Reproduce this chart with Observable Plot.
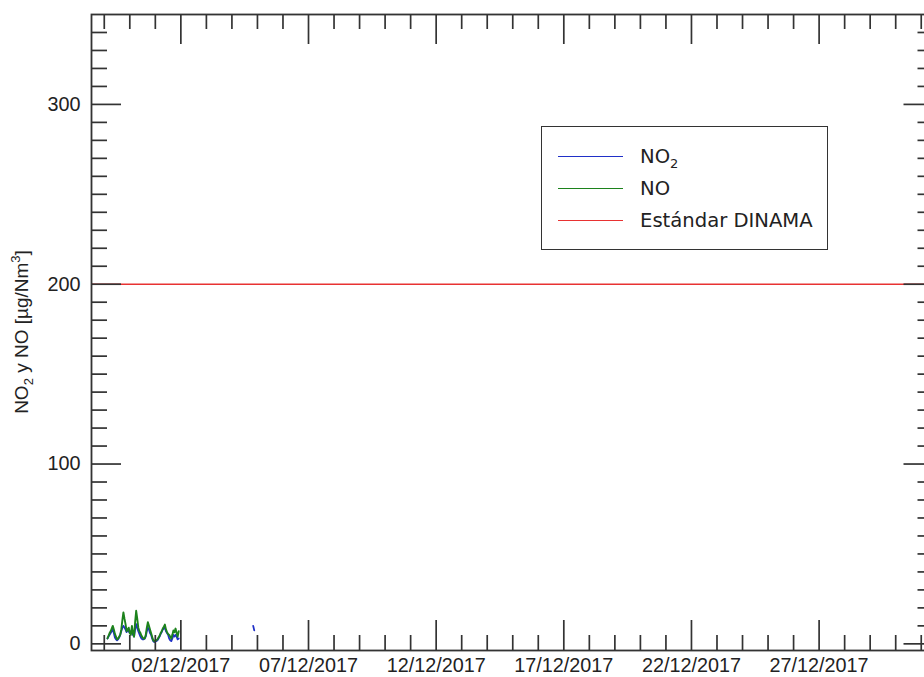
<!DOCTYPE html>
<html>
<head>
<meta charset="utf-8">
<script src="https://cdn.jsdelivr.net/npm/d3@7"></script>
<script src="https://cdn.jsdelivr.net/npm/@observablehq/plot@0.6"></script>
<style>
  html, body { margin: 0; padding: 0; background: #fff; overflow: hidden; }
  #wrap { position: relative; width: 924px; height: 677px; overflow: hidden; }
  #wrap svg { max-width: none !important; display: block; }
  #legend {
    position: absolute; left: 541px; top: 126px; width: 285px; height: 122px;
    border: 1.5px solid #333; background: #fff;
    font-family: "DejaVu Sans", sans-serif; font-size: 19.6px; color: #222;
  }
  .row { position: absolute; left: 0; height: 0; }
  .row .sw { position: absolute; left: 16px; width: 65px; top: -1px; border-top: 1.5px solid; }
  .row .lb { position: absolute; left: 98px; top: -12px; white-space: nowrap; line-height: 24px; }
  .row sub { font-size: 13px; vertical-align: -5px; line-height: 0; }
</style>
</head>
<body>
<div id="wrap"></div>
<script>
// Hourly NO and NO2 concentrations (µg/Nm³) from 29/11/2017 03:00 onwards
const seriesStart = "2017-11-29T03:00:00Z";
const noValues = [3, 4.5, 6, 7, 8.5, 10, 8, 5.5, 4, 2.5, 3, 4, 5, 8, 13, 17.5, 14, 11, 7, 8,
  9, 6, 5, 10, 6, 4, 12, 18.4, 14, 9, 7, 6, 4.5, 3.5, 3, 3, 5, 9, 12, 10,
  8, 6, 4, 2, 1.5, 2, 2, 2.5, 3.5, 4.5, 6, 7, 8.5, 9.5, 10.7, 8, 6.5, 5.5, 5, 4,
  3, 5, 7.5, 6.5, 8.5, 6, 4, 7];
const no2Values = [3, 4, 5, 6, 7, 8, 6, 3.5, 2.5, 2, 2.5, 3.5, 5, 7, 9, 10, 9, 8, 6.5, 8,
  7, 6, 6, 8, 5, 4, 8, 11, 9, 7, 5.5, 4, 3, 2.5, 2.5, 3, 4, 7, 9, 8,
  6, 5, 3, 1.5, 1, 1.5, 1.5, 2, 3, 4, 5.5, 6.5, 8, 8.5, 9, 7, 6, 5, 3, 2,
  1.5, 3, 5, 4, 5, 4, 2.5, 3];
// isolated NO2 readings later in the month
const no2LateTimes = ["2017-12-04T20:00:00Z", "2017-12-04T21:00:00Z"];
const no2LateValues = [10, 7.5];

// DINAMA standard for NO2
const standardValue = 200;

// axes
const xDomain = ["2017-11-28T12:00:00Z", "2017-12-31T12:00:00Z"];
const yDomain = [-3.7, 350];
const yLabels = [0, 100, 200, 300];
const xLabels = ["02/12/2017", "07/12/2017", "12/12/2017", "17/12/2017", "22/12/2017", "27/12/2017"];

const colors = { no2: "#2030c8", no: "#1c821c", standard: "#e83232", axis: "#333" };

// ---- build rows ----
const t0 = new Date(seriesStart);
const hour = 3600e3;
const noRows = noValues.map((v, i) => ({ t: new Date(+t0 + i * hour), v }));
const no2Rows = no2Values.map((v, i) => ({ t: new Date(+t0 + i * hour), v }));
no2Rows.push({ t: new Date(+no2Rows[no2Rows.length - 1].t + hour), v: NaN }); // gap
no2LateTimes.forEach((s, i) => no2Rows.push({ t: new Date(s), v: no2LateValues[i] }));

const parseLabel = d3.utcParse("%d/%m/%Y");
const labelDates = xLabels.map(s => ({ t: parseLabel(s), s }));
const dom = xDomain.map(s => new Date(s));
const dayTicks = d3.utcDay.range(d3.utcDay.ceil(dom[0]), dom[1]);
const majorSet = new Set(labelDates.map(d => +d.t));
const minorDays = dayTicks.filter(d => !majorSet.has(+d));
const yMajor = d3.range(0, 350, 100);
const yMinor = d3.range(10, 350, 10).filter(v => v % 100 !== 0);

// ---- layout ----
const W = 940, H = 677;
const mL = 91, mT = 14, mB = 27, mR = W - 933.5;
const fw = W - mL - mR, fh = H - mT - mB;
const tick = { stroke: colors.axis, strokeWidth: 1.7 };

const chart = Plot.plot({
  width: W, height: H,
  marginLeft: mL, marginRight: mR, marginTop: mT, marginBottom: mB,
  x: { type: "utc", domain: dom, axis: null },
  y: { domain: yDomain, axis: null },
  style: { fontFamily: "'Liberation Sans', Arial, sans-serif", fontSize: "19.8px", color: "#222", background: "#fff", overflow: "visible", maxWidth: "none" },
  marks: [
    Plot.ruleY([standardValue], { stroke: colors.standard, strokeWidth: 1.4 }),
    Plot.line(no2Rows, { x: "t", y: "v", stroke: colors.no2, strokeWidth: 1.8 }),
    Plot.line(noRows, { x: "t", y: "v", stroke: colors.no, strokeWidth: 1.9 }),
    // left and right ticks (inward)
    Plot.tickY(yMinor, { y: d => d, insetRight: fw - 16, ...tick }),
    Plot.tickY(yMajor, { y: d => d, insetRight: fw - 30, ...tick }),
    Plot.tickY(yMinor, { y: d => d, insetLeft: fw - 16, ...tick }),
    Plot.tickY(yMajor, { y: d => d, insetLeft: fw - 30, ...tick }),
    // top and bottom ticks (inward)
    Plot.tickX(minorDays, { x: d => d, insetBottom: fh - 15, ...tick }),
    Plot.tickX(minorDays, { x: d => d, insetTop: fh - 15, ...tick }),
    Plot.tickX(labelDates, { x: "t", insetBottom: fh - 30, ...tick }),
    Plot.tickX(labelDates, { x: "t", insetTop: fh - 30, ...tick }),
    Plot.frame({ stroke: colors.axis, strokeWidth: 1.8 }),
    Plot.text(yLabels, { y: d => d, text: d => String(d), frameAnchor: "left", dx: -11, textAnchor: "end", fill: "#222" }),
    Plot.text(labelDates, { x: "t", text: "s", frameAnchor: "bottom", dy: 7, lineAnchor: "top", fill: "#222" })
  ]
});

// y-axis title with sub/superscripts
const svg = d3.select(chart);
const title = svg.append("text")
  .attr("transform", `translate(28,${mT + fh / 2}) rotate(-90)`)
  .attr("text-anchor", "middle")
  .attr("fill", "#222")
  .style("font-family", "'Liberation Sans', Arial, sans-serif")
  .style("font-size", "19px");
title.append("tspan").text("NO");
title.append("tspan").attr("dy", 5).style("font-size", "13px").text("2");
title.append("tspan").attr("dy", -5).text(" y NO [µg/Nm");
title.append("tspan").attr("dy", -8).style("font-size", "13px").text("3");
title.append("tspan").attr("dy", 8).text("]");

const wrap = document.getElementById("wrap");
wrap.appendChild(chart);

// legend
const legend = document.createElement("div");
legend.id = "legend";
const entries = [
  { html: "NO<sub>2</sub>", color: colors.no2, y: 30 },
  { html: "NO", color: colors.no, y: 62 },
  { html: "Estándar DINAMA", color: colors.standard, y: 94 }
];
for (const e of entries) {
  const row = document.createElement("div");
  row.className = "row";
  row.style.top = e.y + "px";
  row.innerHTML = `<span class="sw" style="border-color:${e.color}"></span><span class="lb">${e.html}</span>`;
  legend.appendChild(row);
}
wrap.appendChild(legend);
</script>
</body>
</html>
